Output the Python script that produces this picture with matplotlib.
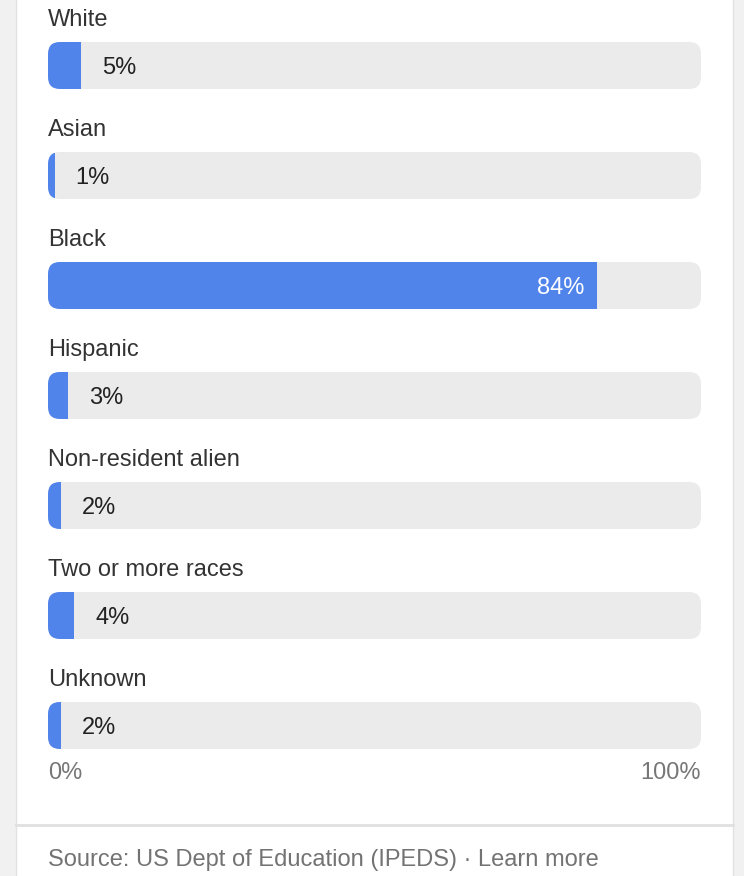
import matplotlib
matplotlib.use("Agg")
import matplotlib.pyplot as plt
from matplotlib.patches import FancyBboxPatch, Rectangle
from matplotlib.lines import Line2D

categories = ["White", "Asian", "Black", "Hispanic", "Non-resident alien",
              "Two or more races", "Unknown"]
values = [5, 1, 84, 3, 2, 4, 2]
value_labels = ["5%", "1%", "84%", "3%", "2%", "4%", "2%"]
axis_labels = ["0%", "100%"]
source_text = "Source: US Dept of Education (IPEDS) \u00b7 Learn more"

W, H = 744, 876
DPI = 100
plt.rcParams['font.family'] = ['Liberation Sans', 'DejaVu Sans']
FS = 17

fig = plt.figure(figsize=(W / DPI, H / DPI), dpi=DPI)
fig.patch.set_facecolor("#f1f1f1")

# card
card = Rectangle((16 / W, -0.01), (733 - 16) / W, 1.02, transform=fig.transFigure,
                 facecolor="white", edgecolor="#e2e2e2", linewidth=1.0, zorder=0)
fig.add_artist(card)
fig.add_artist(Line2D([16 / W, 733 / W], [1 - 825 / H, 1 - 825 / H],
                      transform=fig.transFigure, color="#e0e0e0", linewidth=2.0))

x0, x1 = 48, 701
ax = fig.add_axes([x0 / W, 0, (x1 - x0) / W, 1])
ax.set_xlim(0, 100)
ax.set_ylim(H, 0)
ax.axis("off")
ax.patch.set_alpha(0)

px_per_x = (x1 - x0) / 100.0
radius_px = 12
bar_h = 47
first_bar_top = 42
step = 110

blue = "#5184eb"
track_col = "#ebebeb"

for i, (cat, v, lab) in enumerate(zip(categories, values, value_labels)):
    top = first_bar_top + step * i
    cy = top + bar_h / 2 + 2
    track = FancyBboxPatch((0, top), 100, bar_h,
                           boxstyle=f"round,pad=0,rounding_size={radius_px / px_per_x}",
                           mutation_aspect=px_per_x,
                           facecolor=track_col, edgecolor="none", zorder=1)
    ax.add_patch(track)
    fill = Rectangle((0, top), v, bar_h, facecolor=blue, edgecolor="none", zorder=2)
    ax.add_patch(fill)
    fill.set_clip_path(track)
    ax.text(0, top - 22, cat, fontsize=FS, color="#333333", va="center", ha="left")
    if v > 50:
        ax.annotate(lab, (v, cy), xytext=(-12, 0), textcoords="offset pixels",
                    ha="right", va="center", fontsize=FS, color="white", zorder=3)
    else:
        ax.annotate(lab, (v, cy), xytext=(21, 0), textcoords="offset pixels",
                    ha="left", va="center", fontsize=FS, color="#222222", zorder=3)

axis_y = first_bar_top + step * (len(categories) - 1) + bar_h + 24
ax.text(0, axis_y, axis_labels[0], fontsize=FS, color="#777777", ha="left", va="center")
ax.text(100, axis_y, axis_labels[1], fontsize=FS, color="#777777", ha="right", va="center")

fig.text(x0 / W, 1 - 860 / H, source_text, fontsize=FS, color="#737373",
         ha="left", va="center")

fig.savefig("out.png", dpi=DPI)
